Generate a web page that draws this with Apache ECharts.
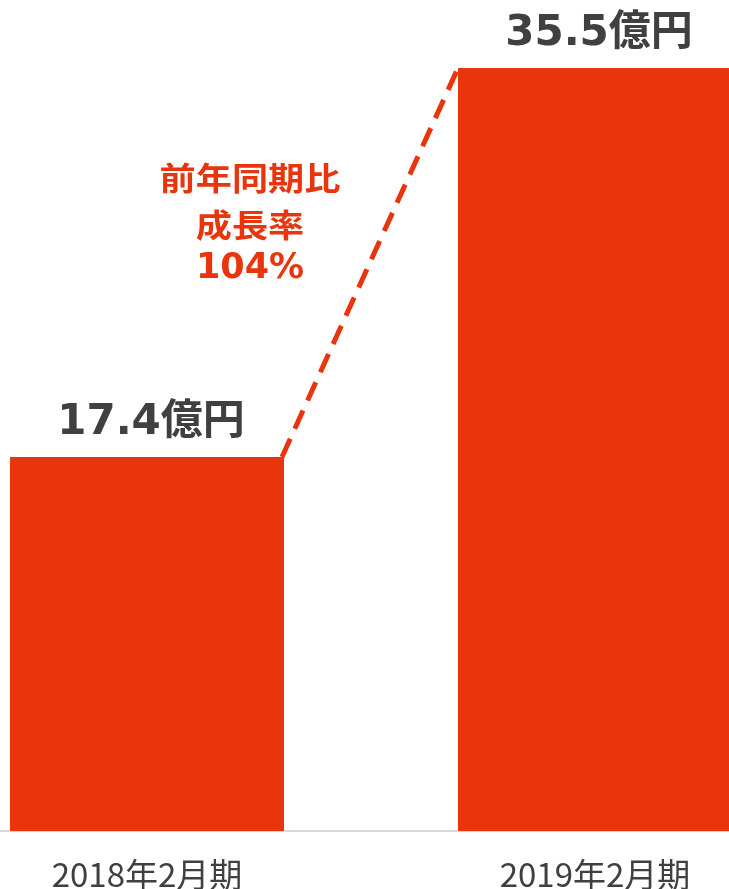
<!DOCTYPE html>
<html>
<head>
<meta charset="utf-8">
<script src="https://cdn.jsdelivr.net/npm/echarts@6/dist/echarts.min.js"></script>
<style>
  html, body { margin: 0; padding: 0; background: #ffffff; }
  #chart { width: 729px; height: 889px; }
</style>
</head>
<body>
<div id="chart"></div>
<script>
// Fiscal periods and revenue (億円)
const categories = ['2018年2月期', '2019年2月期'];
const revenue = [17.4, 35.5];
const valueUnit = '億円';
const growthTitle = ['前年同期比', '成長率'];

const RED = '#E8350D';
const GRAY = '#404040';
const BAR_WIDTH = 274;

const growthPct = Math.round((revenue[1] / revenue[0] - 1) * 100);

const chart = echarts.init(document.getElementById('chart'), null, { renderer: 'canvas' });

const titleFont = "bold 32px 'Noto Sans CJK JP', sans-serif";

chart.setOption({
  backgroundColor: '#ffffff',
  animation: false,
  grid: { left: -77, right: -90, top: 68, bottom: 58, containLabel: false, outerBoundsMode: 'none' },
  xAxis: {
    type: 'category',
    data: categories,
    axisLine: { show: true, lineStyle: { color: '#d9d9d9', width: 2 } },
    axisTick: { show: false },
    axisLabel: {
      color: GRAY,
      fontSize: 33,
      fontFamily: "'Noto Sans CJK JP', sans-serif",
      fontWeight: 'normal',
      margin: 27
    }
  },
  yAxis: {
    type: 'value',
    min: 0,
    max: revenue[1],
    show: false,
    splitLine: { show: false }
  },
  series: [
    {
      type: 'bar',
      data: revenue,
      barWidth: BAR_WIDTH,
      itemStyle: { color: RED },
      label: {
        show: true,
        position: 'top',
        distance: 13,
        offset: [4, 0],
        formatter: p => p.value + valueUnit,
        color: GRAY,
        fontSize: 42,
        fontWeight: 'bold',
        fontFamily: "'DejaVu Sans', 'Noto Sans CJK JP', sans-serif"
      }
    },
    {
      // dashed connector from the top-right corner of one bar to the top-left of the next
      type: 'custom',
      data: revenue.slice(0, -1).map((v, i) => [i, v]),
      z: 3,
      renderItem: (params, api) => {
        const i = api.value(0);
        const a = api.coord([i, revenue[i]]);
        const b = api.coord([i + 1, revenue[i + 1]]);
        return {
          type: 'line',
          shape: { x1: a[0] + BAR_WIDTH / 2 - 2, y1: a[1], x2: b[0] - BAR_WIDTH / 2, y2: b[1] },
          style: { stroke: RED, lineWidth: 5, lineDash: [20, 11], fill: null }
        };
      }
    }
  ],
  graphic: [
    {
      type: 'text', x: 250, y: 178, scaleX: 1.13,
      style: { text: growthTitle[0], fill: RED, font: titleFont, align: 'center', verticalAlign: 'middle' }
    },
    {
      type: 'text', x: 250, y: 225, scaleX: 1.13,
      style: { text: growthTitle[1], fill: RED, font: titleFont, align: 'center', verticalAlign: 'middle' }
    },
    {
      type: 'text', x: 250, y: 269,
      style: { text: growthPct + '%', fill: RED, font: "bold 35px 'DejaVu Sans', sans-serif", align: 'center', verticalAlign: 'middle' }
    }
  ]
});
</script>
</body>
</html>
